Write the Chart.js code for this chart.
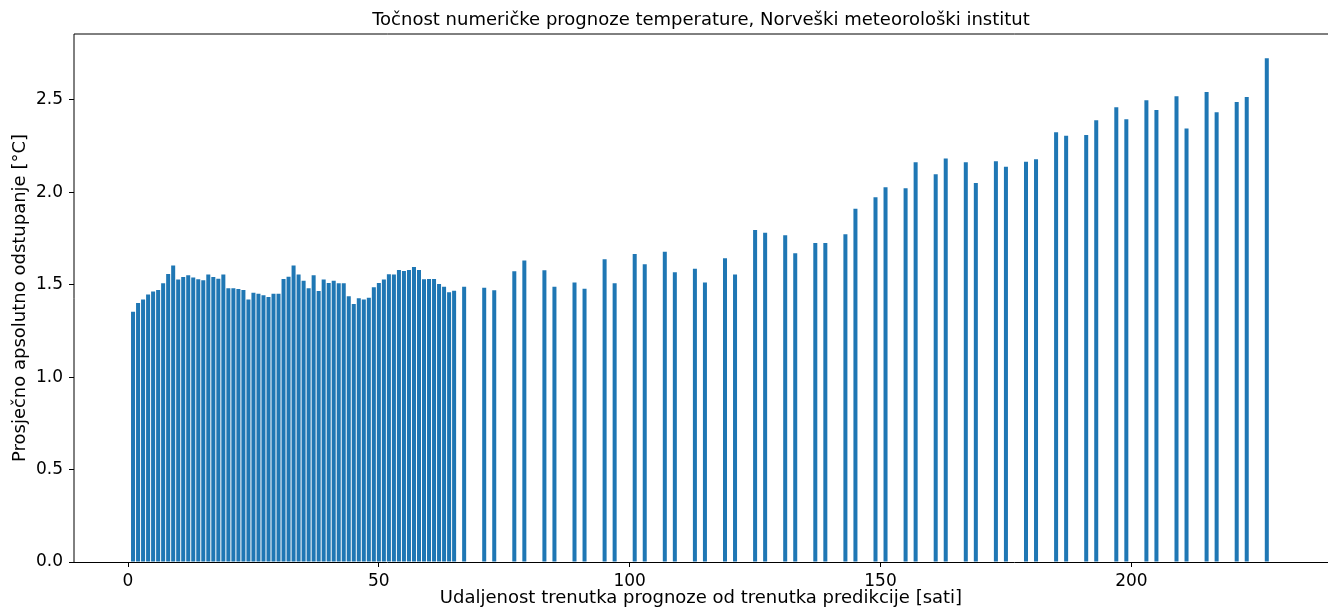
<!DOCTYPE html>
<html>
<head>
<meta charset="utf-8">
<script src="https://cdn.jsdelivr.net/npm/chart.js@4"></script>
<style>
  html, body { margin: 0; padding: 0; background: #fff; }
  #wrap { width: 1328px; height: 609px; }
</style>
</head>
<body>
<div id="wrap"><canvas id="myChart" width="1328" height="609"></canvas></div>
<script>
// lead time of the forecast [h]
const hours = [
  1, 2, 3, 4, 5, 6, 7, 8, 9, 10,
  11, 12, 13, 14, 15, 16, 17, 18, 19, 20,
  21, 22, 23, 24, 25, 26, 27, 28, 29, 30,
  31, 32, 33, 34, 35, 36, 37, 38, 39, 40,
  41, 42, 43, 44, 45, 46, 47, 48, 49, 50,
  51, 52, 53, 54, 55, 56, 57, 58, 59, 60,
  61, 62, 63, 64, 65, 67,
  71, 73, 77, 79, 83, 85, 89, 91, 95, 97,
  101, 103, 107, 109, 113, 115, 119, 121, 125, 127,
  131, 133, 137, 139, 143, 145, 149, 151, 155, 157,
  161, 163, 167, 169, 173, 175, 179, 181, 185, 187,
  191, 193, 197, 199, 203, 205, 209, 211, 215, 217,
  221, 223, 227
];

// mean absolute error [°C]
const mae = [
  1.354, 1.401, 1.421, 1.448, 1.463, 1.472, 1.508, 1.558, 1.605, 1.528,
  1.542, 1.551, 1.540, 1.530, 1.524, 1.555, 1.542, 1.533, 1.555, 1.481,
  1.481, 1.477, 1.472, 1.421, 1.457, 1.452, 1.443, 1.434, 1.452, 1.452,
  1.531, 1.544, 1.605, 1.555, 1.522, 1.481, 1.551, 1.467, 1.528, 1.510,
  1.522, 1.508, 1.508, 1.438, 1.396, 1.427, 1.421, 1.430, 1.486, 1.510,
  1.528, 1.557, 1.555, 1.580, 1.575, 1.580, 1.596, 1.580, 1.530, 1.531,
  1.531, 1.504, 1.490, 1.459, 1.468, 1.490,
  1.484, 1.470, 1.573, 1.632, 1.578, 1.490, 1.513, 1.479, 1.638, 1.508,
  1.667, 1.611, 1.679, 1.568, 1.587, 1.513, 1.643, 1.555, 1.797, 1.782,
  1.768, 1.670, 1.726, 1.726, 1.773, 1.912, 1.973, 2.028, 2.022, 2.163,
  2.098, 2.183, 2.163, 2.051, 2.168, 2.139, 2.166, 2.179, 2.325, 2.307,
  2.311, 2.390, 2.460, 2.396, 2.498, 2.446, 2.520, 2.345, 2.543, 2.433,
  2.489, 2.516, 2.726
];

const xTicks = [0, 50, 100, 150, 200];
const yTicks = [0, 0.5, 1.0, 1.5, 2.0, 2.5];

const FONT = "DejaVu Sans";

// spines: grey-ish left/top (antialiased), solid bottom
const frame = {
  id: "frame",
  afterDatasetsDraw(chart) {
    const { ctx, chartArea: a } = chart;
    ctx.save();
    ctx.strokeStyle = "#000";
    ctx.lineWidth = 1;
    ctx.beginPath();
    ctx.moveTo(a.left, a.bottom + 0.5);
    ctx.lineTo(a.left, a.top);
    ctx.lineTo(a.right, a.top);
    ctx.stroke();
    ctx.beginPath();
    ctx.moveTo(a.left, a.bottom + 0.5);
    ctx.lineTo(a.right, a.bottom + 0.5);
    ctx.stroke();
    ctx.restore();
  }
};

const points = hours.map((h, i) => ({ x: h, y: mae[i] }));

new Chart(document.getElementById("myChart").getContext("2d"), {
  type: "bar",
  data: {
    datasets: [{
      data: points,
      backgroundColor: "#1f77b4",
      borderWidth: 0,
      barPercentage: 0.8,
      categoryPercentage: 1.0
    }]
  },
  plugins: [frame],
  options: {
    responsive: false,
    animation: false,
    layout: { padding: { left: 0, right: 0, top: 0, bottom: 0 } },
    plugins: {
      legend: { display: false },
      tooltip: { enabled: false },
      title: {
        display: true,
        fullSize: false,
        text: "Točnost numeričke prognoze temperature, Norveški meteorološki institut",
        color: "#000",
        font: { family: FONT, size: 18, weight: "normal" },
        padding: { top: 10, bottom: 2.4 }
      }
    },
    scales: {
      x: {
        type: "linear",
        offset: false,
        min: -10.77,
        max: 239.2,
        afterBuildTicks: s => { s.ticks = xTicks.map(v => ({ value: v })); },
        afterFit: s => { s.height = 47; },
        grid: { display: true, drawOnChartArea: false, offset: false, tickLength: 5, tickColor: "#000" },
        border: { display: false },
        ticks: {
          color: "#000",
          font: { family: FONT, size: 17 },
          padding: 4,
          maxRotation: 0,
          callback: v => String(v)
        },
        title: {
          display: true,
          text: "Udaljenost trenutka prognoze od trenutka predikcije [sati]",
          color: "#000",
          font: { family: FONT, size: 18 },
          padding: { top: 0, bottom: 0 }
        }
      },
      y: {
        min: 0,
        max: 2.857,
        afterBuildTicks: s => { s.ticks = yTicks.map(v => ({ value: v })); },
        afterFit: s => { s.width = 74; },
        grid: { display: true, drawOnChartArea: false, tickLength: 5, tickColor: "#000" },
        border: { display: false },
        ticks: {
          color: "#000",
          font: { family: FONT, size: 17 },
          padding: 6,
          callback: v => Number(v).toFixed(1)
        },
        title: {
          display: true,
          text: "Prosječno apsolutno odstupanje [°C]",
          color: "#000",
          font: { family: FONT, size: 18 },
          padding: { top: 10, bottom: 0 }
        }
      }
    }
  }
});
</script>
</body>
</html>
